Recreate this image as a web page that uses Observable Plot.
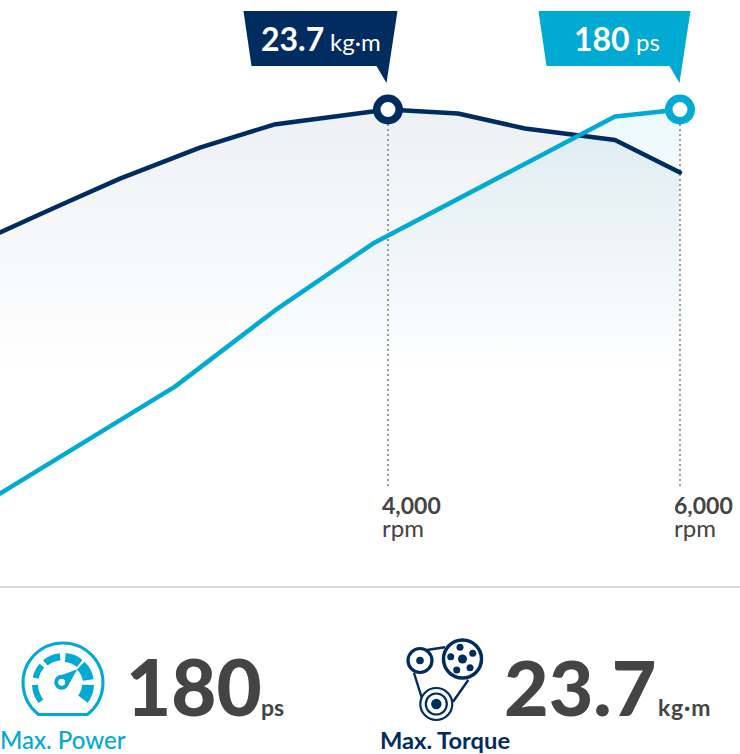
<!DOCTYPE html>
<html>
<head>
<meta charset="utf-8">
<style>
  html, body { margin: 0; padding: 0; background: #fff; overflow: hidden; }
  body { width: 740px; height: 754px; position: relative; font-family: Lato, "Open Sans", sans-serif; }
  #chart svg { display: block; }
  #kpi { position: absolute; left: 0; top: 586px; width: 740px; height: 168px; border-top: 2px solid #d9d9d9; box-sizing: border-box; }
  #kpi svg { position: absolute; left: 0; top: -588px; }
</style>
<script src="https://cdn.jsdelivr.net/npm/d3@7"></script>
<script src="https://cdn.jsdelivr.net/npm/@observablehq/plot@0.6"></script>
</head>
<body>
<div id="chart"></div>
<div id="kpi"></div>
<script>
const NAVY = "#002c5f", BLUE = "#00aad2", INK = "#444444";

// Values
const torqueRpm = [1342.5, 1719, 2164, 2712, 3219, 4000, 4479, 4938, 5555, 6000];
const torqueKgm = [17.24, 18.55, 20.07, 21.7, 22.91, 23.7, 23.49, 22.7, 22.1, 20.39];
const powerRpm  = [1342.5, 2541, 3226, 3897, 5555, 6000];
const powerPs   = [26.7, 69.4, 99.8, 126.5, 177.2, 180];
const peakTorque = 23.7, peakPower = 180;
const peakTorqueRpm = 4000, peakPowerRpm = 6000;
const tickRpm = [4000, 6000];
const tickUnit = "rpm";
const torqueUnit = "kg·m", powerUnit = "ps";
const powerLabel = "Max. Power", torqueLabel = "Max. Torque";

const torque = torqueRpm.map((rpm, i) => ({rpm, share: torqueKgm[i] / peakTorque}));
const power  = powerRpm.map((rpm, i) => ({rpm, share: powerPs[i] / peakPower}));
const tickFloor = 0.164;

function gradients() {
  const defs = d3.create("svg:defs");
  [["gTorque", NAVY], ["gPower", BLUE]].forEach(([id, c]) => {
    const g = defs.append("linearGradient").attr("id", id)
      .attr("gradientUnits", "userSpaceOnUse")
      .attr("x1", 0).attr("x2", 0).attr("y1", 109).attr("y2", 375);
    g.append("stop").attr("offset", 0).attr("stop-color", c).attr("stop-opacity", 0.07);
    g.append("stop").attr("offset", 1).attr("stop-color", c).attr("stop-opacity", 0);
  });
  return defs.node();
}

function flag(rpm, color, pts) {
  return (index, {x, y}) => d3.create("svg:polygon")
    .attr("fill", color)
    .attr("points", pts.map(([a, b]) => `${x(rpm) + a},${y(1) + b}`).join(" "))
    .node();
}

const label = (text, rpm, dx, dy, size, weight, fill) =>
  Plot.text([text], {x: () => rpm, y: () => 1, text: d => d, dx, dy, fontSize: size, fontWeight: weight, fill, textAnchor: "start", lineAnchor: "bottom"});

const plot = Plot.plot({
  width: 740, height: 587,
  margin: 0,
  x: {domain: [1346, 6414.5], range: [0, 740], axis: null},
  y: {domain: [0, 1], range: [560, 109], axis: null},
  style: {fontFamily: "Lato, 'Open Sans', sans-serif", background: "transparent", overflow: "visible"},
  marks: [
    gradients,
    Plot.areaY(torque, {x: "rpm", y1: 0, y2: "share", fill: "url(#gTorque)"}),
    Plot.areaY(power, {x: "rpm", y1: 0, y2: "share", fill: "url(#gPower)"}),
    Plot.ruleX(tickRpm, {y1: tickFloor, y2: 1, stroke: "#9a9a9a", strokeWidth: 2, strokeDasharray: "2 3"}),
    Plot.lineY(torque, {x: "rpm", y: "share", stroke: NAVY, strokeWidth: 4.5, curve: "linear"}),
    Plot.lineY(power, {x: "rpm", y: "share", stroke: BLUE, strokeWidth: 4.5, curve: "linear"}),
    Plot.dot([{rpm: peakTorqueRpm, share: 1}], {x: "rpm", y: "share", r: 11.25, fill: "#fff", stroke: NAVY, strokeWidth: 7.5}),
    Plot.dot([{rpm: peakPowerRpm, share: 1}], {x: "rpm", y: "share", r: 11.25, fill: "#fff", stroke: BLUE, strokeWidth: 7.5}),
    flag(peakTorqueRpm, NAVY, [[-144, -98], [10, -98], [-1, -26], [-11, -43], [-136, -43]]),
    flag(peakPowerRpm, BLUE, [[-141, -98], [11, -98], [0, -26], [-10, -43], [-133, -43]]),
    label(String(peakTorque), peakTorqueRpm, -127, -59, 32, 700, "#fff"),
    label(torqueUnit, peakTorqueRpm, -58, -59, 24, 400, "#fff"),
    label(String(peakPower), peakPowerRpm, -106, -59, 32, 700, "#fff"),
    label(powerUnit, peakPowerRpm, -44, -59, 24, 400, "#fff"),
    Plot.text(tickRpm, {x: d => d, y: () => tickFloor, text: d => d3.format(",")(d), dx: -6, dy: 27, fontSize: 23, fontWeight: 700, fill: INK, textAnchor: "start", lineAnchor: "bottom"}),
    Plot.text(tickRpm, {x: d => d, y: () => tickFloor, text: () => tickUnit, dx: -6, dy: 50, fontSize: 24, fontWeight: 400, fill: INK, textAnchor: "start", lineAnchor: "bottom"})
  ]
});
document.getElementById("chart").append(plot);

// Bottom summary (icons are decoration, text stays real text)
function arcSeg(cx, cy, r0, r1, a0, a1) {
  const d = d3.arc()({innerRadius: r0, outerRadius: r1, startAngle: a0 * Math.PI / 180, endAngle: a1 * Math.PI / 180});
  return `<path transform="translate(${cx},${cy})" d="${d}" fill="${BLUE}"/>`;
}
const gaugeCx = 63, gaugeCy = 684;
const gauge = `
  <path d="M38.5 714.5 A40 40 0 1 1 87.5 714.5 Z" fill="none" stroke="${BLUE}" stroke-width="3" stroke-linejoin="round"/>
  ${[[-128,-92,25],[-78,-49,25],[-40,-6,24],[5,39,22],[44,81,20],[92,127,19]].map(([a,b,r]) => arcSeg(gaugeCx, gaugeCy, r, 31, a, b)).join("")}
  <circle cx="61.7" cy="682.3" r="5.5" fill="#fff" stroke="${BLUE}" stroke-width="4"/>
  <path d="M62 675 L77.3 669.3 L69 684 Z" fill="${BLUE}"/>`;
const pulley = `
  <g fill="none" stroke="${NAVY}">
    <circle cx="420" cy="660.5" r="12" stroke-width="3.2"/>
    <circle cx="462.5" cy="659" r="19" stroke-width="3.5"/>
    <circle cx="436.3" cy="704" r="16" stroke-width="2.2"/>
    <circle cx="436.3" cy="704" r="10.5" stroke-width="2.2"/>
    <path d="M414 673 L421.5 697 M426.7 650 L445 647.3 M468.3 680 L453 701.7" stroke-width="2.4"/>
  </g>
  <g fill="${NAVY}">
    <circle cx="420" cy="660.5" r="3.8"/>
    <circle cx="462.5" cy="659" r="4.5"/>
    <circle cx="436.3" cy="704" r="5.2"/>
    ${[[460,647.3],[472.7,653.3],[470,667.7],[456.7,670],[450.7,656.7]].map(([x, y]) => `<circle cx="${x}" cy="${y}" r="3.5"/>`).join("")}
  </g>`;
document.getElementById("kpi").innerHTML = `
<svg width="740" height="754" viewBox="0 0 740 754" font-family="Lato, 'Open Sans', sans-serif">
  ${gauge}${pulley}
  <text x="126" y="716" font-size="78" font-weight="900" fill="${INK}">${peakPower}</text>
  <text x="261" y="716" font-size="23" font-weight="700" fill="${INK}">${powerUnit}</text>
  <text x="504" y="716" font-size="77" font-weight="900" fill="${INK}">${peakTorque}</text>
  <text x="658" y="716" font-size="23" font-weight="700" letter-spacing="0.8" fill="${INK}">${torqueUnit}</text>
  <text x="0" y="748.5" font-size="24" font-weight="500" fill="${BLUE}">${powerLabel}</text>
  <text x="380" y="748.5" font-size="23.7" font-weight="700" fill="${NAVY}">${torqueLabel}</text>
</svg>`;
</script>
</body>
</html>
